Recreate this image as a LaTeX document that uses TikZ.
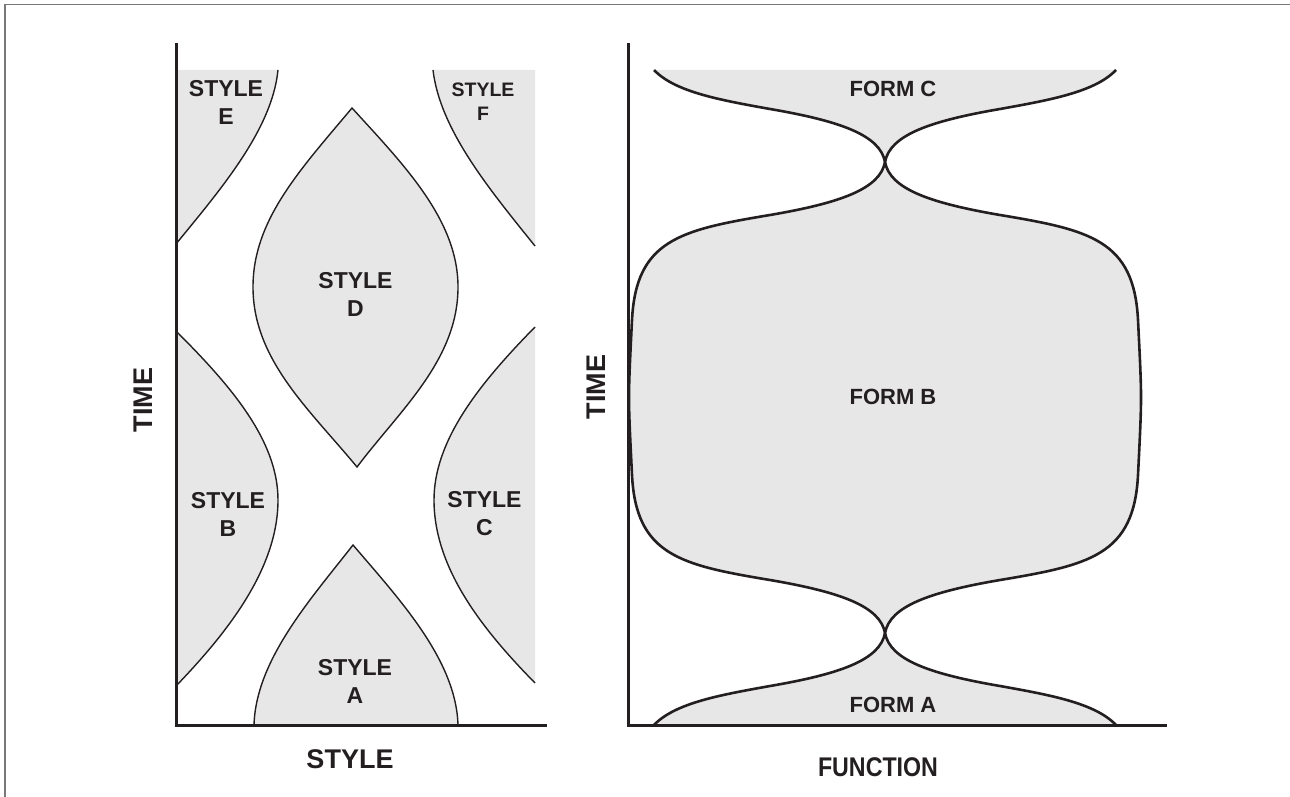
\documentclass[tikz,border=0pt]{standalone}
\usepackage{fontspec}
\setmainfont{Liberation Sans}
\usepackage{graphicx}
\definecolor{regiongray}{RGB}{232,231,232}
\definecolor{ink}{RGB}{35,31,32}
\definecolor{framegray}{RGB}{120,120,120}

\begin{document}
\begin{tikzpicture}[x=1pt,y=-1pt,
  axis/.style={draw=ink, line width=3pt},
  thincurve/.style={draw=ink, line width=1.4pt},
  thickcurve/.style={draw=ink, line width=2.6pt},
  lbl/.style={align=center, inner sep=0pt, text=ink,
    font=\fontsize{23}{28}\selectfont\bfseries},
  smalllbl/.style={align=center, inner sep=0pt, text=ink,
    font=\fontsize{19.5}{24}\selectfont\bfseries},
  formlbl/.style={inner sep=0pt, text=ink,
    font=\fontsize{22}{26}\selectfont\bfseries},
  axislbl/.style={inner sep=0pt, text=ink,
    font=\fontsize{27}{32}\selectfont\bfseries}]

\useasboundingbox (0,0) rectangle (1290,797);

% outer frame
\draw[framegray, line width=1.5pt] (5,797) -- (5,4.5) -- (1290,4.5);

% ---------------- left panel: style over time ----------------
% shaded regions
\fill[regiongray] (176,70) -- (278,70) .. controls (272,130) and (220,190) .. (176,244) -- cycle;
\fill[regiongray] (535,70) -- (433,70) .. controls (440,130) and (490,190) .. (535,246) -- cycle;
\fill[regiongray] (352,108) .. controls (300,170) and (253,220) .. (253,287)
  .. controls (253,360) and (310,410) .. (357,467)
  .. controls (400,410) and (458,360) .. (458,287)
  .. controls (458,220) and (404,165) .. (352,108) -- cycle;
\fill[regiongray] (176,331) .. controls (230,385) and (278,440) .. (278,500)
  .. controls (278,570) and (225,635) .. (176,686) -- cycle;
\fill[regiongray] (535,327) .. controls (480,383) and (434,440) .. (434,500)
  .. controls (434,570) and (485,632) .. (535,683) -- cycle;
\fill[regiongray] (254,725) .. controls (256,660) and (310,600) .. (353,545)
  .. controls (400,600) and (456,660) .. (458,725) -- cycle;

% region outlines
\draw[thincurve] (278,70) .. controls (272,130) and (220,190) .. (176,244);
\draw[thincurve] (433,70) .. controls (440,130) and (490,190) .. (535,246);
\draw[thincurve] (352,108) .. controls (300,170) and (253,220) .. (253,287)
  .. controls (253,360) and (310,410) .. (357,467)
  .. controls (400,410) and (458,360) .. (458,287)
  .. controls (458,220) and (404,165) .. (352,108) -- cycle;
\draw[thincurve] (176,331) .. controls (230,385) and (278,440) .. (278,500)
  .. controls (278,570) and (225,635) .. (176,686);
\draw[thincurve] (535,327) .. controls (480,383) and (434,440) .. (434,500)
  .. controls (434,570) and (485,632) .. (535,683);
\draw[thincurve] (254,725) .. controls (256,660) and (310,600) .. (353,545)
  .. controls (400,600) and (456,660) .. (458,725);

% axes
\coordinate (lTop) at (176,43);
\coordinate (lOrigin) at (176,725);
\coordinate (lRight) at (547,725);
\draw[axis] (lTop) -- (lOrigin) -- (lRight);

% labels
\node[lbl] (styleE) at (226,102.5) {STYLE\\E};
\node[smalllbl] (styleF) at (483,101.5) {STYLE\\F};
\node[lbl] (styleD) at (355.5,294) {STYLE\\D};
\node[lbl] (styleB) at (228,514) {STYLE\\B};
\node[lbl] (styleC) at (484.5,514) {STYLE\\C};
\node[lbl] (styleA) at (355,681) {STYLE\\A};
\node[axislbl, rotate=90] (timeL) at (143,400) {TIME};
\node[axislbl] (styleAxis) at (350,759) {STYLE};

% ---------------- right panel: form over function ----------------
% The two boundary curves cross at the two necks; the band between them
% (forms C, B and A) is filled with the nonzero rule.
\fill[regiongray] (654,70)
  .. controls (675,92) and (720,100) .. (770,109)
  .. controls (840,121) and (880,135) .. (885,162)
  .. controls (890,189) and (930,203) .. (1000,215)
  .. controls (1090,230) and (1134,240) .. (1138,320)
  .. controls (1140,360) and (1141,380) .. (1141,397.5)
  .. controls (1141,415) and (1140,435) .. (1138,475)
  .. controls (1134,555) and (1090,565) .. (1000,580)
  .. controls (930,592) and (890,606) .. (885,633)
  .. controls (880,660) and (840,674) .. (770,686)
  .. controls (720,695) and (675,703) .. (654,725)
  -- (1116,725)
  .. controls (1095,703) and (1050,695) .. (1000,686)
  .. controls (930,674) and (890,660) .. (885,633)
  .. controls (880,606) and (840,592) .. (770,580)
  .. controls (680,565) and (636,555) .. (632,475)
  .. controls (630,435) and (629,415) .. (629,397.5)
  .. controls (629,380) and (630,360) .. (632,320)
  .. controls (636,240) and (680,230) .. (770,215)
  .. controls (840,203) and (880,189) .. (885,162)
  .. controls (890,135) and (930,121) .. (1000,109)
  .. controls (1050,100) and (1095,92) .. (1116,70) -- cycle;

% boundary from top left, over the right bulge, to bottom left
\draw[thickcurve] (654,70)
  .. controls (675,92) and (720,100) .. (770,109)
  .. controls (840,121) and (880,135) .. (885,162)
  .. controls (890,189) and (930,203) .. (1000,215)
  .. controls (1090,230) and (1134,240) .. (1138,320)
  .. controls (1140,360) and (1141,380) .. (1141,397.5)
  .. controls (1141,415) and (1140,435) .. (1138,475)
  .. controls (1134,555) and (1090,565) .. (1000,580)
  .. controls (930,592) and (890,606) .. (885,633)
  .. controls (880,660) and (840,674) .. (770,686)
  .. controls (720,695) and (675,703) .. (654,725);
% boundary from top right, over the left bulge, to bottom right
\draw[thickcurve] (1116,70)
  .. controls (1095,92) and (1050,100) .. (1000,109)
  .. controls (930,121) and (890,135) .. (885,162)
  .. controls (880,189) and (840,203) .. (770,215)
  .. controls (680,230) and (636,240) .. (632,320)
  .. controls (630,360) and (629,380) .. (629,397.5)
  .. controls (629,415) and (630,435) .. (632,475)
  .. controls (636,555) and (680,565) .. (770,580)
  .. controls (840,592) and (880,606) .. (885,633)
  .. controls (890,660) and (930,674) .. (1000,686)
  .. controls (1050,695) and (1095,703) .. (1116,725);

% axes
\coordinate (rTop) at (628,43);
\coordinate (rOrigin) at (628,725);
\coordinate (rRight) at (1167,725);
\draw[axis] (rTop) -- (rOrigin) -- (rRight);

% labels
\node[formlbl] (formC) at (893,89) {FORM C};
\node[formlbl] (formB) at (893,397) {FORM B};
\node[formlbl] (formA) at (893,705) {FORM A};
\node[axislbl, rotate=90] (timeR) at (596,387) {TIME};
\node[axislbl] (functionAxis) at (878,767) {\scalebox{0.86}[1]{FUNCTION}};
\end{tikzpicture}
\end{document}
